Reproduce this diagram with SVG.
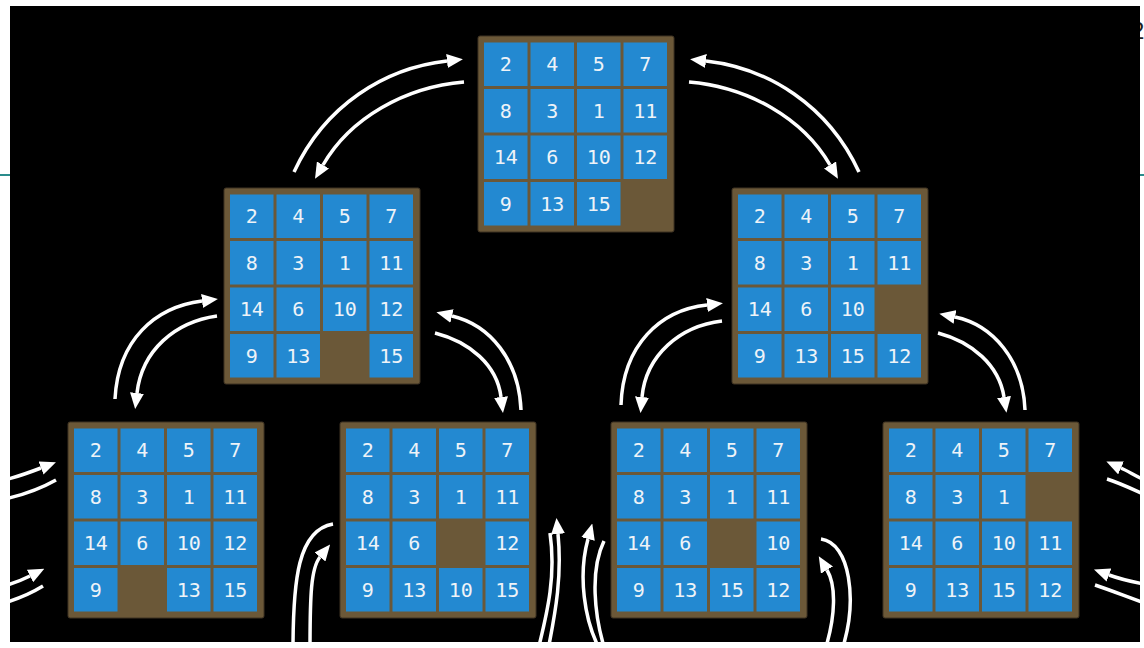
<svg xmlns="http://www.w3.org/2000/svg" width="1144" height="648" viewBox="0 0 1144 648">
<style>
.bg{fill:#000}
.fr{fill:#6b5838;stroke:#3f3322;stroke-width:1}
.t{fill:#2389d1}
.n{font-family:"DejaVu Sans Mono","Liberation Mono",monospace;font-size:20px;fill:#eef3f8;text-anchor:middle}
.a{fill:none;stroke:#fff;stroke-width:3.5;stroke-linecap:butt}
.teal{stroke:#2a8c8c;stroke-width:2}
</style>
<defs>
<marker id="ah" markerUnits="userSpaceOnUse" markerWidth="16" markerHeight="14" refX="0" refY="7" orient="auto" viewBox="0 0 16 14">
<path d="M0,0 L16,7 L0,14 z" fill="#fff"/>
</marker>
<clipPath id="clip"><rect x="10" y="6" width="1130" height="636"/></clipPath>
</defs>
<rect width="1144" height="648" fill="#fff"/>
<line class="teal" x1="0" y1="175" x2="10" y2="175"/>
<line class="teal" x1="1140" y1="175" x2="1144" y2="175"/>
<text x="1131" y="39" font-family="Liberation Sans, sans-serif" font-size="24" fill="#222">2</text>
<rect class="bg" x="10" y="6" width="1130" height="636"/>

<g id="board-top" transform="translate(478,36)">
<rect class="fr" x="0" y="0" width="196" height="196" rx="2"/>
<rect class="t" x="6" y="6.5" width="43.5" height="43.5"/><text class="n" x="27.75" y="35">2</text>
<rect class="t" x="52.5" y="6.5" width="43.5" height="43.5"/><text class="n" x="74.25" y="35">4</text>
<rect class="t" x="99" y="6.5" width="43.5" height="43.5"/><text class="n" x="120.75" y="35">5</text>
<rect class="t" x="145.5" y="6.5" width="43.5" height="43.5"/><text class="n" x="167.25" y="35">7</text>
<rect class="t" x="6" y="53" width="43.5" height="43.5"/><text class="n" x="27.75" y="81.5">8</text>
<rect class="t" x="52.5" y="53" width="43.5" height="43.5"/><text class="n" x="74.25" y="81.5">3</text>
<rect class="t" x="99" y="53" width="43.5" height="43.5"/><text class="n" x="120.75" y="81.5">1</text>
<rect class="t" x="145.5" y="53" width="43.5" height="43.5"/><text class="n" x="167.25" y="81.5">11</text>
<rect class="t" x="6" y="99.5" width="43.5" height="43.5"/><text class="n" x="27.75" y="128">14</text>
<rect class="t" x="52.5" y="99.5" width="43.5" height="43.5"/><text class="n" x="74.25" y="128">6</text>
<rect class="t" x="99" y="99.5" width="43.5" height="43.5"/><text class="n" x="120.75" y="128">10</text>
<rect class="t" x="145.5" y="99.5" width="43.5" height="43.5"/><text class="n" x="167.25" y="128">12</text>
<rect class="t" x="6" y="146" width="43.5" height="43.5"/><text class="n" x="27.75" y="174.5">9</text>
<rect class="t" x="52.5" y="146" width="43.5" height="43.5"/><text class="n" x="74.25" y="174.5">13</text>
<rect class="t" x="99" y="146" width="43.5" height="43.5"/><text class="n" x="120.75" y="174.5">15</text>
</g>

<g id="board-mid-left" transform="translate(224,188)">
<rect class="fr" x="0" y="0" width="196" height="196" rx="2"/>
<rect class="t" x="6" y="6.5" width="43.5" height="43.5"/><text class="n" x="27.75" y="35">2</text>
<rect class="t" x="52.5" y="6.5" width="43.5" height="43.5"/><text class="n" x="74.25" y="35">4</text>
<rect class="t" x="99" y="6.5" width="43.5" height="43.5"/><text class="n" x="120.75" y="35">5</text>
<rect class="t" x="145.5" y="6.5" width="43.5" height="43.5"/><text class="n" x="167.25" y="35">7</text>
<rect class="t" x="6" y="53" width="43.5" height="43.5"/><text class="n" x="27.75" y="81.5">8</text>
<rect class="t" x="52.5" y="53" width="43.5" height="43.5"/><text class="n" x="74.25" y="81.5">3</text>
<rect class="t" x="99" y="53" width="43.5" height="43.5"/><text class="n" x="120.75" y="81.5">1</text>
<rect class="t" x="145.5" y="53" width="43.5" height="43.5"/><text class="n" x="167.25" y="81.5">11</text>
<rect class="t" x="6" y="99.5" width="43.5" height="43.5"/><text class="n" x="27.75" y="128">14</text>
<rect class="t" x="52.5" y="99.5" width="43.5" height="43.5"/><text class="n" x="74.25" y="128">6</text>
<rect class="t" x="99" y="99.5" width="43.5" height="43.5"/><text class="n" x="120.75" y="128">10</text>
<rect class="t" x="145.5" y="99.5" width="43.5" height="43.5"/><text class="n" x="167.25" y="128">12</text>
<rect class="t" x="6" y="146" width="43.5" height="43.5"/><text class="n" x="27.75" y="174.5">9</text>
<rect class="t" x="52.5" y="146" width="43.5" height="43.5"/><text class="n" x="74.25" y="174.5">13</text>
<rect class="t" x="145.5" y="146" width="43.5" height="43.5"/><text class="n" x="167.25" y="174.5">15</text>
</g>

<g id="board-mid-right" transform="translate(732,188)">
<rect class="fr" x="0" y="0" width="196" height="196" rx="2"/>
<rect class="t" x="6" y="6.5" width="43.5" height="43.5"/><text class="n" x="27.75" y="35">2</text>
<rect class="t" x="52.5" y="6.5" width="43.5" height="43.5"/><text class="n" x="74.25" y="35">4</text>
<rect class="t" x="99" y="6.5" width="43.5" height="43.5"/><text class="n" x="120.75" y="35">5</text>
<rect class="t" x="145.5" y="6.5" width="43.5" height="43.5"/><text class="n" x="167.25" y="35">7</text>
<rect class="t" x="6" y="53" width="43.5" height="43.5"/><text class="n" x="27.75" y="81.5">8</text>
<rect class="t" x="52.5" y="53" width="43.5" height="43.5"/><text class="n" x="74.25" y="81.5">3</text>
<rect class="t" x="99" y="53" width="43.5" height="43.5"/><text class="n" x="120.75" y="81.5">1</text>
<rect class="t" x="145.5" y="53" width="43.5" height="43.5"/><text class="n" x="167.25" y="81.5">11</text>
<rect class="t" x="6" y="99.5" width="43.5" height="43.5"/><text class="n" x="27.75" y="128">14</text>
<rect class="t" x="52.5" y="99.5" width="43.5" height="43.5"/><text class="n" x="74.25" y="128">6</text>
<rect class="t" x="99" y="99.5" width="43.5" height="43.5"/><text class="n" x="120.75" y="128">10</text>
<rect class="t" x="6" y="146" width="43.5" height="43.5"/><text class="n" x="27.75" y="174.5">9</text>
<rect class="t" x="52.5" y="146" width="43.5" height="43.5"/><text class="n" x="74.25" y="174.5">13</text>
<rect class="t" x="99" y="146" width="43.5" height="43.5"/><text class="n" x="120.75" y="174.5">15</text>
<rect class="t" x="145.5" y="146" width="43.5" height="43.5"/><text class="n" x="167.25" y="174.5">12</text>
</g>

<g id="board-b1" transform="translate(68,422)">
<rect class="fr" x="0" y="0" width="196" height="196" rx="2"/>
<rect class="t" x="6" y="6.5" width="43.5" height="43.5"/><text class="n" x="27.75" y="35">2</text>
<rect class="t" x="52.5" y="6.5" width="43.5" height="43.5"/><text class="n" x="74.25" y="35">4</text>
<rect class="t" x="99" y="6.5" width="43.5" height="43.5"/><text class="n" x="120.75" y="35">5</text>
<rect class="t" x="145.5" y="6.5" width="43.5" height="43.5"/><text class="n" x="167.25" y="35">7</text>
<rect class="t" x="6" y="53" width="43.5" height="43.5"/><text class="n" x="27.75" y="81.5">8</text>
<rect class="t" x="52.5" y="53" width="43.5" height="43.5"/><text class="n" x="74.25" y="81.5">3</text>
<rect class="t" x="99" y="53" width="43.5" height="43.5"/><text class="n" x="120.75" y="81.5">1</text>
<rect class="t" x="145.5" y="53" width="43.5" height="43.5"/><text class="n" x="167.25" y="81.5">11</text>
<rect class="t" x="6" y="99.5" width="43.5" height="43.5"/><text class="n" x="27.75" y="128">14</text>
<rect class="t" x="52.5" y="99.5" width="43.5" height="43.5"/><text class="n" x="74.25" y="128">6</text>
<rect class="t" x="99" y="99.5" width="43.5" height="43.5"/><text class="n" x="120.75" y="128">10</text>
<rect class="t" x="145.5" y="99.5" width="43.5" height="43.5"/><text class="n" x="167.25" y="128">12</text>
<rect class="t" x="6" y="146" width="43.5" height="43.5"/><text class="n" x="27.75" y="174.5">9</text>
<rect class="t" x="99" y="146" width="43.5" height="43.5"/><text class="n" x="120.75" y="174.5">13</text>
<rect class="t" x="145.5" y="146" width="43.5" height="43.5"/><text class="n" x="167.25" y="174.5">15</text>
</g>

<g id="board-b2" transform="translate(340,422)">
<rect class="fr" x="0" y="0" width="196" height="196" rx="2"/>
<rect class="t" x="6" y="6.5" width="43.5" height="43.5"/><text class="n" x="27.75" y="35">2</text>
<rect class="t" x="52.5" y="6.5" width="43.5" height="43.5"/><text class="n" x="74.25" y="35">4</text>
<rect class="t" x="99" y="6.5" width="43.5" height="43.5"/><text class="n" x="120.75" y="35">5</text>
<rect class="t" x="145.5" y="6.5" width="43.5" height="43.5"/><text class="n" x="167.25" y="35">7</text>
<rect class="t" x="6" y="53" width="43.5" height="43.5"/><text class="n" x="27.75" y="81.5">8</text>
<rect class="t" x="52.5" y="53" width="43.5" height="43.5"/><text class="n" x="74.25" y="81.5">3</text>
<rect class="t" x="99" y="53" width="43.5" height="43.5"/><text class="n" x="120.75" y="81.5">1</text>
<rect class="t" x="145.5" y="53" width="43.5" height="43.5"/><text class="n" x="167.25" y="81.5">11</text>
<rect class="t" x="6" y="99.5" width="43.5" height="43.5"/><text class="n" x="27.75" y="128">14</text>
<rect class="t" x="52.5" y="99.5" width="43.5" height="43.5"/><text class="n" x="74.25" y="128">6</text>
<rect class="t" x="145.5" y="99.5" width="43.5" height="43.5"/><text class="n" x="167.25" y="128">12</text>
<rect class="t" x="6" y="146" width="43.5" height="43.5"/><text class="n" x="27.75" y="174.5">9</text>
<rect class="t" x="52.5" y="146" width="43.5" height="43.5"/><text class="n" x="74.25" y="174.5">13</text>
<rect class="t" x="99" y="146" width="43.5" height="43.5"/><text class="n" x="120.75" y="174.5">10</text>
<rect class="t" x="145.5" y="146" width="43.5" height="43.5"/><text class="n" x="167.25" y="174.5">15</text>
</g>

<g id="board-b3" transform="translate(611,422)">
<rect class="fr" x="0" y="0" width="196" height="196" rx="2"/>
<rect class="t" x="6" y="6.5" width="43.5" height="43.5"/><text class="n" x="27.75" y="35">2</text>
<rect class="t" x="52.5" y="6.5" width="43.5" height="43.5"/><text class="n" x="74.25" y="35">4</text>
<rect class="t" x="99" y="6.5" width="43.5" height="43.5"/><text class="n" x="120.75" y="35">5</text>
<rect class="t" x="145.5" y="6.5" width="43.5" height="43.5"/><text class="n" x="167.25" y="35">7</text>
<rect class="t" x="6" y="53" width="43.5" height="43.5"/><text class="n" x="27.75" y="81.5">8</text>
<rect class="t" x="52.5" y="53" width="43.5" height="43.5"/><text class="n" x="74.25" y="81.5">3</text>
<rect class="t" x="99" y="53" width="43.5" height="43.5"/><text class="n" x="120.75" y="81.5">1</text>
<rect class="t" x="145.5" y="53" width="43.5" height="43.5"/><text class="n" x="167.25" y="81.5">11</text>
<rect class="t" x="6" y="99.5" width="43.5" height="43.5"/><text class="n" x="27.75" y="128">14</text>
<rect class="t" x="52.5" y="99.5" width="43.5" height="43.5"/><text class="n" x="74.25" y="128">6</text>
<rect class="t" x="145.5" y="99.5" width="43.5" height="43.5"/><text class="n" x="167.25" y="128">10</text>
<rect class="t" x="6" y="146" width="43.5" height="43.5"/><text class="n" x="27.75" y="174.5">9</text>
<rect class="t" x="52.5" y="146" width="43.5" height="43.5"/><text class="n" x="74.25" y="174.5">13</text>
<rect class="t" x="99" y="146" width="43.5" height="43.5"/><text class="n" x="120.75" y="174.5">15</text>
<rect class="t" x="145.5" y="146" width="43.5" height="43.5"/><text class="n" x="167.25" y="174.5">12</text>
</g>

<g id="board-b4" transform="translate(883,422)">
<rect class="fr" x="0" y="0" width="196" height="196" rx="2"/>
<rect class="t" x="6" y="6.5" width="43.5" height="43.5"/><text class="n" x="27.75" y="35">2</text>
<rect class="t" x="52.5" y="6.5" width="43.5" height="43.5"/><text class="n" x="74.25" y="35">4</text>
<rect class="t" x="99" y="6.5" width="43.5" height="43.5"/><text class="n" x="120.75" y="35">5</text>
<rect class="t" x="145.5" y="6.5" width="43.5" height="43.5"/><text class="n" x="167.25" y="35">7</text>
<rect class="t" x="6" y="53" width="43.5" height="43.5"/><text class="n" x="27.75" y="81.5">8</text>
<rect class="t" x="52.5" y="53" width="43.5" height="43.5"/><text class="n" x="74.25" y="81.5">3</text>
<rect class="t" x="99" y="53" width="43.5" height="43.5"/><text class="n" x="120.75" y="81.5">1</text>
<rect class="t" x="6" y="99.5" width="43.5" height="43.5"/><text class="n" x="27.75" y="128">14</text>
<rect class="t" x="52.5" y="99.5" width="43.5" height="43.5"/><text class="n" x="74.25" y="128">6</text>
<rect class="t" x="99" y="99.5" width="43.5" height="43.5"/><text class="n" x="120.75" y="128">10</text>
<rect class="t" x="145.5" y="99.5" width="43.5" height="43.5"/><text class="n" x="167.25" y="128">11</text>
<rect class="t" x="6" y="146" width="43.5" height="43.5"/><text class="n" x="27.75" y="174.5">9</text>
<rect class="t" x="52.5" y="146" width="43.5" height="43.5"/><text class="n" x="74.25" y="174.5">13</text>
<rect class="t" x="99" y="146" width="43.5" height="43.5"/><text class="n" x="120.75" y="174.5">15</text>
<rect class="t" x="145.5" y="146" width="43.5" height="43.5"/><text class="n" x="167.25" y="174.5">12</text>
</g>

<g id="connectors" clip-path="url(#clip)">
<path class="a" d="M294,172 C325,105 385,68 447,61" marker-end="url(#ah)"/>
<path class="a" d="M464,82 C405,87 350,118 323,165" marker-end="url(#ah)"/>
<path class="a" d="M859,172 C828,105 768,68 706,61" marker-end="url(#ah)"/>
<path class="a" d="M689,82 C748,87 803,118 830,165" marker-end="url(#ah)"/>
<path class="a" d="M115,399 C118,340 155,307 202,301" marker-end="url(#ah)"/>
<path class="a" d="M217,316 C175,322 142,350 137,393" marker-end="url(#ah)"/>
<path class="a" d="M521,410 C519,360 490,325 452,316" marker-end="url(#ah)"/>
<path class="a" d="M435,333 C470,342 497,365 501,397" marker-end="url(#ah)"/>
<path class="a" d="M621,405 C623,345 660,310 707,305" marker-end="url(#ah)"/>
<path class="a" d="M722,321 C680,326 646,355 642,397" marker-end="url(#ah)"/>
<path class="a" d="M1025,410 C1023,360 993,325 955,317" marker-end="url(#ah)"/>
<path class="a" d="M938,333 C972,342 999,365 1004,397" marker-end="url(#ah)"/>
<path class="a" d="M0,481 C14,478 28,473 41,468" marker-end="url(#ah)"/>
<path class="a" d="M0,500 C20,496 40,489 56,480"/>
<path class="a" d="M0,587 C12,584 22,580 30,576" marker-end="url(#ah)"/>
<path class="a" d="M0,604 C15,600 30,594 43,586"/>
<path class="a" d="M1150,482 C1140,479 1130,472 1121,468" marker-end="url(#ah)"/>
<path class="a" d="M1107,479 C1120,483 1132,489 1150,497"/>
<path class="a" d="M1150,585 C1138,583 1120,579 1109,575" marker-end="url(#ah)"/>
<path class="a" d="M1095,585 C1110,590 1125,596 1150,605"/>
<path class="a" d="M293,650 C293,580 298,530 333,524"/>
<path class="a" d="M310,650 C310,595 311,568 320,557" marker-end="url(#ah)"/>
<path class="a" d="M548,650 C556,610 562,575 558,534" marker-end="url(#ah)"/>
<path class="a" d="M538,650 C548,610 556,575 550,533"/>
<path class="a" d="M600,650 C584,620 578,575 588,539" marker-end="url(#ah)"/>
<path class="a" d="M605,650 C594,615 590,570 604,541"/>
<path class="a" d="M821,539 C850,543 858,600 842,650"/>
<path class="a" d="M825,650 C836,615 836,585 827,570" marker-end="url(#ah)"/>
</g>
</svg>
